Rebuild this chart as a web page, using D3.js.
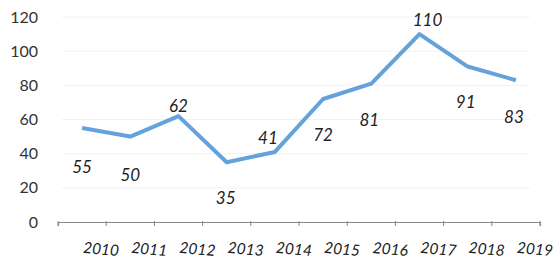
<!DOCTYPE html>
<head>
<meta charset="utf-8">
<script src="https://d3js.org/d3.v7.min.js"></script>
<style>
body, html { margin: 0; padding: 0; background: #fff; }
svg text { font-family: Lato, "Open Sans", sans-serif; }
.ylab { fill: #333; font-size: 16px; }
.xlab { fill: #222; font-size: 15.5px; font-style: italic; }
.dlab { fill: #222; font-size: 17px; font-style: italic; }
</style>
</head>
<body>
<div id="chart"></div>
<script>
// data
var years = ["2010", "2011", "2012", "2013", "2014", "2015", "2016", "2017", "2018", "2019"];
var values = [55, 50, 62, 35, 41, 72, 81, 110, 91, 83];
var yTicks = [0, 20, 40, 60, 80, 100, 120];

var width = 553, height = 264;

var svg = d3.select("#chart").append("svg")
    .attr("width", width)
    .attr("height", height);

var x = d3.scaleBand().domain(years).range([58, 540]);
var y = d3.scaleLinear().domain([0, 120]).range([222, 17]);

// faint gridlines
svg.append("g")
  .selectAll("line")
  .data(yTicks.filter(function(d) { return d > 0; }))
  .enter().append("line")
    .attr("x1", 62).attr("x2", 530)
    .attr("y1", function(d) { return y(d); })
    .attr("y2", function(d) { return y(d); })
    .style("stroke", "#f2f2f2")
    .style("stroke-width", 1);

// y labels
svg.append("g")
  .selectAll("text")
  .data(yTicks)
  .enter().append("text")
    .attr("class", "ylab")
    .attr("x", 38)
    .attr("y", function(d) { return y(d); })
    .attr("dy", "0.35em")
    .attr("text-anchor", "end")
    .text(function(d) { return d; });

// x axis
var xAxis = svg.append("g")
    .attr("transform", "translate(0,222)")
    .call(d3.axisBottom(x).tickSize(4).tickSizeOuter(4).tickFormat(""));
xAxis.select(".domain").style("stroke", "#888").style("stroke-width", 1.2);
xAxis.selectAll(".tick").remove();
// ticks at band edges
xAxis.selectAll("line.edge")
  .data(years.concat(["end"]))
  .enter().append("line")
    .attr("class", "edge")
    .attr("x1", function(d, i) { return i < years.length ? x(d) : x.range()[1]; })
    .attr("x2", function(d, i) { return i < years.length ? x(d) : x.range()[1]; })
    .attr("y1", -1).attr("y2", 4)
    .style("stroke", "#888");

svg.append("g")
  .selectAll("text")
  .data(years)
  .enter().append("text")
    .attr("class", "xlab")
    .attr("transform", function(d) {
      var cx = x(d) + x.bandwidth() / 2 + 19;
      return "translate(" + cx + ",249) rotate(5)";
    })
    .attr("dy", "0.35em")
    .attr("text-anchor", "middle")
    .text(function(d) { return d; });

// line
var line = d3.line()
    .x(function(d, i) { return x(years[i]) + x.bandwidth() / 2; })
    .y(function(d) { return y(d); });

svg.append("path")
    .datum(values)
    .attr("d", line)
    .style("fill", "none")
    .style("stroke", "#64a2dc")
    .style("stroke-width", 4)
    .style("stroke-linejoin", "round");

// data labels (above = negative offset)
var labelDy = [39, 38, -10, 36, -14, 36, 36, -14, 36, 37];
var labelDx = [0, 0, 0, -1, -7, 0, -2, 8, -2, -2];
svg.append("g")
  .selectAll("text")
  .data(values)
  .enter().append("text")
    .attr("class", "dlab")
    .attr("x", function(d, i) { return x(years[i]) + x.bandwidth() / 2 + labelDx[i]; })
    .attr("y", function(d, i) { return y(d) + labelDy[i]; })
    .attr("dy", "0.35em")
    .attr("text-anchor", "middle")
    .text(function(d) { return d; });
</script>
</body>
